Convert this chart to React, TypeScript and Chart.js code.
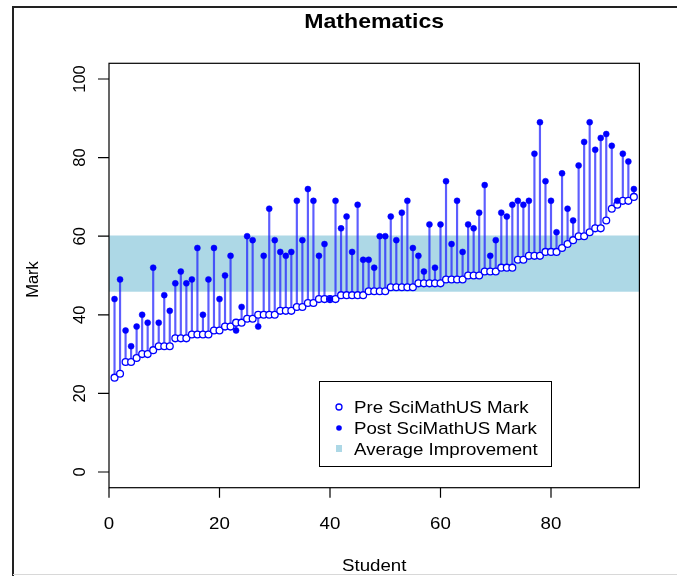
import { useEffect, useRef } from "react";
import { Chart, registerables } from "chart.js";

Chart.register(...registerables);

// Marks per student (students 1..95, ordered by pre mark)
const PRE_MARKS = [
  24, 25, 28, 28, 29, 30, 30, 31, 32, 32,
  32, 34, 34, 34, 35, 35, 35, 35, 36, 36,
  37, 37, 38, 38, 39, 39, 40, 40, 40, 40,
  41, 41, 41, 42, 42, 43, 43, 44, 44, 44,
  44, 45, 45, 45, 45, 45, 46, 46, 46, 46,
  47, 47, 47, 47, 47, 48, 48, 48, 48, 48,
  49, 49, 49, 49, 50, 50, 50, 51, 51, 51,
  52, 52, 52, 54, 54, 55, 55, 55, 56, 56,
  56, 57, 58, 59, 60, 60, 61, 62, 62, 64,
  67, 68, 69, 69, 70,
];

const POST_MARKS = [
  44, 49, 36, 32, 37, 40, 38, 52, 38, 45,
  41, 48, 51, 48, 49, 57, 40, 49, 57, 44,
  50, 55, 36, 42, 60, 59, 37, 55, 67, 59,
  56, 55, 56, 69, 59, 72, 69, 55, 58, 44,
  69, 62, 65, 56, 68, 54, 54, 52, 60, 60,
  65, 59, 66, 69, 57, 55, 51, 63, 52, 63,
  74, 58, 69, 56, 63, 62, 66, 73, 55, 59,
  66, 65, 68, 69, 68, 69, 81, 89, 74, 69,
  61, 76, 67, 64, 78, 84, 89, 82, 85, 86,
  83, 69, 81, 79, 72,
];

const X_TICKS = [0, 20, 40, 60, 80];
const Y_TICKS = [0, 20, 40, 60, 80, 100];
const X_RANGE = [0, 96];
const Y_RANGE = [-4, 104];

const TITLE = "Mathematics";
const X_TITLE = "Student";
const Y_TITLE = "Mark";
const LEGEND_LABELS = ["Pre SciMathUS Mark", "Post SciMathUS Mark", "Average Improvement"];

const BLUE = "#0000ff";
const STEM = "rgba(30, 30, 255, 0.72)";
const BAND = "#add8e6";
const FONT = '"Liberation Sans", Arial, Helvetica, sans-serif';

const mean = (a: number[]) => a.reduce((s, v) => s + v, 0) / a.length;

// Horizontal text, slightly widened like the original device output
function hText(
  ctx: CanvasRenderingContext2D,
  text: string,
  x: number,
  y: number,
  font: string,
  align: CanvasTextAlign,
  sx = 1.1
) {
  ctx.save();
  ctx.translate(x, y);
  ctx.scale(sx, 1);
  ctx.font = font;
  ctx.fillStyle = "#000";
  ctx.textAlign = align;
  ctx.textBaseline = "middle";
  ctx.fillText(text, 0, 0);
  ctx.restore();
}

function vText(ctx: CanvasRenderingContext2D, text: string, x: number, y: number, font: string) {
  ctx.save();
  ctx.translate(x, y);
  ctx.rotate(-Math.PI / 2);
  ctx.font = font;
  ctx.fillStyle = "#000";
  ctx.textAlign = "center";
  ctx.textBaseline = "middle";
  ctx.fillText(text, 0, 0);
  ctx.restore();
}

const framePlugin = {
  id: "rFrame",
  beforeDraw(chart: any) {
    const { ctx, width, height } = chart;
    ctx.save();
    ctx.fillStyle = "#fff";
    ctx.fillRect(0, 0, width, height);
    // figure border
    ctx.strokeStyle = "#222";
    ctx.lineWidth = 2;
    ctx.beginPath();
    ctx.moveTo(13, height);
    ctx.lineTo(13, 7);
    ctx.lineTo(width, 7);
    ctx.stroke();
    ctx.strokeStyle = "#d8d8d8";
    ctx.lineWidth = 1;
    ctx.beginPath();
    ctx.moveTo(13, 574.5);
    ctx.lineTo(width, 574.5);
    ctx.stroke();
    ctx.restore();
  },
  beforeDatasetsDraw(chart: any) {
    const { ctx, chartArea, scales } = chart;
    const yTop = scales.y.getPixelForValue(mean(POST_MARKS));
    const yBot = scales.y.getPixelForValue(mean(PRE_MARKS));
    ctx.save();
    ctx.fillStyle = BAND;
    ctx.fillRect(chartArea.left, yTop, chartArea.right - chartArea.left, yBot - yTop);
    ctx.restore();
  },
  afterDatasetsDraw(chart: any) {
    const { ctx, chartArea, scales } = chart;
    const { left, right, top, bottom } = chartArea;
    ctx.save();

    // plot box
    ctx.strokeStyle = "#000";
    ctx.lineWidth = 1.2;
    ctx.strokeRect(left, top, right - left, bottom - top);

    // x axis ticks and labels
    ctx.beginPath();
    for (const v of X_TICKS) {
      const px = scales.x.getPixelForValue(v);
      ctx.moveTo(px, bottom);
      ctx.lineTo(px, bottom + 10);
    }
    ctx.stroke();
    for (const v of X_TICKS) {
      hText(ctx, String(v), scales.x.getPixelForValue(v), 524, `17px ${FONT}`, "center");
    }

    // y axis ticks and labels
    ctx.beginPath();
    for (const v of Y_TICKS) {
      const py = scales.y.getPixelForValue(v);
      ctx.moveTo(left - 11, py);
      ctx.lineTo(left, py);
    }
    ctx.stroke();
    for (const v of Y_TICKS) {
      vText(ctx, String(v), 80, scales.y.getPixelForValue(v), `16.5px ${FONT}`);
    }

    // titles
    hText(ctx, TITLE, (left + right) / 2, 22, `bold 21px ${FONT}`, "center");
    hText(ctx, X_TITLE, (left + right) / 2, 566, `17px ${FONT}`, "center");
    vText(ctx, Y_TITLE, 33, (top + bottom) / 2 + 4, `16.5px ${FONT}`);

    // legend
    const lx = 319, ly = 381, lw = 232, lh = 85;
    ctx.fillStyle = "#fff";
    ctx.fillRect(lx, ly, lw, lh);
    ctx.strokeStyle = "#000";
    ctx.lineWidth = 1;
    ctx.strokeRect(lx + 0.5, ly + 0.5, lw, lh);
    const rows = [407, 428, 449];
    const sx = 339;
    // open circle
    ctx.beginPath();
    ctx.arc(sx, rows[0], 3, 0, Math.PI * 2);
    ctx.fillStyle = "#fff";
    ctx.fill();
    ctx.strokeStyle = BLUE;
    ctx.lineWidth = 1.3;
    ctx.stroke();
    // filled dot
    ctx.beginPath();
    ctx.arc(sx, rows[1], 2.8, 0, Math.PI * 2);
    ctx.fillStyle = BLUE;
    ctx.fill();
    // band swatch
    ctx.fillStyle = BAND;
    ctx.fillRect(sx - 3, rows[2] - 4, 6, 7);
    LEGEND_LABELS.forEach((t, i) => {
      hText(ctx, t, 354, rows[i] + 1, `17px ${FONT}`, "left", 1.1);
    });

    ctx.restore();
  },
};

export default function App() {
  const canvasRef = useRef<HTMLCanvasElement | null>(null);

  useEffect(() => {
    document.body.style.margin = "0";
    const canvas = canvasRef.current;
    if (!canvas) return;

    const prePoints = PRE_MARKS.map((v, i) => ({ x: i + 1, y: v }));
    const postPoints = POST_MARKS.map((v, i) => ({ x: i + 1, y: v }));
    const stems = PRE_MARKS.map((v, i) => ({ x: i + 1, y: [v, POST_MARKS[i]] }));

    const chart = new Chart(canvas, {
      type: "scatter",
      data: {
        datasets: [
          {
            type: "bar",
            label: "stems",
            data: stems as any,
            backgroundColor: STEM,
            borderWidth: 0,
            barThickness: 1.5,
            order: 3,
          } as any,
          {
            label: LEGEND_LABELS[0],
            data: prePoints,
            pointStyle: "circle",
            pointRadius: 3.4,
            pointBackgroundColor: "#fff",
            pointBorderColor: BLUE,
            pointBorderWidth: 1.3,
            order: 2,
          },
          {
            label: LEGEND_LABELS[1],
            data: postPoints,
            pointStyle: "circle",
            pointRadius: 3,
            pointBackgroundColor: BLUE,
            pointBorderColor: BLUE,
            pointBorderWidth: 0.5,
            order: 1,
          },
        ],
      },
      options: {
        responsive: false,
        animation: false,
        events: [],
        layout: { padding: { left: 109, right: 37.6, top: 63.3, bottom: 88.3 } },
        plugins: {
          legend: { display: false },
          tooltip: { enabled: false },
          title: { display: false },
        },
        scales: {
          x: {
            type: "linear",
            min: X_RANGE[0],
            max: X_RANGE[1],
            offset: false,
            grid: { offset: false },
            display: false,
          },
          y: { type: "linear", min: Y_RANGE[0], max: Y_RANGE[1], display: false },
        },
      },
      plugins: [framePlugin],
    });

    return () => chart.destroy();
  }, []);

  return <canvas ref={canvasRef} width={677} height={576} style={{ display: "block" }} />;
}
